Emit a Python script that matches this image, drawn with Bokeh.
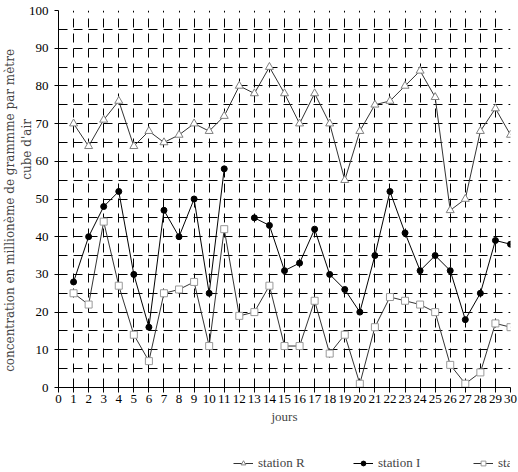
import numpy as np
from bokeh.plotting import figure
from bokeh.layouts import column
from bokeh.models import FixedTicker, Range1d, Legend, LegendItem
from bokeh.embed import file_html
from bokeh.resources import INLINE

nan = float("nan")

days = list(range(1, 31))
station_R = [70, 64, 71, 76, 64, 68, 65, 67, 70, 68, 72, 80, 78, 85, 78,
             70, 78, 70, 55, 68, 75, 76, 80, 84, 77, 47, 50, 68, 74, 67]
station_I = [28, 40, 48, 52, 30, 16, 47, 40, 50, 25, 58, nan, 45, 43, 31,
             33, 42, 30, 26, 20, 35, 52, 41, 31, 35, 31, 18, 25, 39, 38]
station_U = [25, 22, 44, 27, 14, 7, 25, 26, 28, 11, 42, 19, 20, 27, 11,
             11, 23, 9, 14, 1, 16, 24, 23, 22, 20, 6, 1, 4, 17, 16]
x_ticks = list(range(0, 31))
y_ticks = list(range(0, 101, 10))
y_grid = list(range(5, 101, 5))
series_labels = ["station R", "station I", "station U"]
y_label_1 = "concentration en millionème de grammme par mètre"
y_label_2 = "cube d'air"
x_label = "jours"

FONT = "Liberation Serif"
NB = "\u00a0"

R_STYLE = dict(marker="triangle", size=8, line_color="#808080", fill_color="white")
I_STYLE = dict(marker="circle", size=6, line_color="black", fill_color="black")
U_STYLE = dict(marker="square", size=7, line_color="#999999", fill_color="white")

p = figure(width=518, height=442, x_range=Range1d(0, 30), y_range=Range1d(0, 100),
           output_backend="svg", toolbar_location=None)
p.min_border_left = 20
p.min_border_right = 8
p.min_border_top = 10
p.min_border_bottom = 55
p.outline_line_color = None
p.background_fill_color = "white"

# grids
p.xgrid.ticker = FixedTicker(ticks=days)
p.ygrid.ticker = FixedTicker(ticks=y_grid)
for g in (p.xgrid, p.ygrid):
    g.grid_line_color = "black"
    g.grid_line_dash = "9 6"
    g.grid_line_width = 1
    g.grid_line_alpha = 1.0

# axes
p.xaxis.ticker = FixedTicker(ticks=x_ticks)
p.yaxis.ticker = FixedTicker(ticks=y_ticks)
for ax in (p.xaxis, p.yaxis):
    ax.axis_line_color = "black"
    ax.major_tick_line_color = "black"
    ax.minor_tick_line_color = None
    ax.major_tick_in = 0
    ax.major_label_text_font = FONT
    ax.major_label_text_font_size = "13px"
    ax.major_label_text_color = "black"
p.xaxis.major_tick_out = 5
p.yaxis.major_tick_out = 4
p.xaxis.major_label_standoff = 2
p.yaxis.major_label_standoff = 6
p.xaxis.axis_label = x_label
p.xaxis.axis_label_text_font = FONT
p.xaxis.axis_label_text_font_style = "normal"
p.xaxis.axis_label_text_font_size = "13px"
p.xaxis.axis_label_standoff = 3

p.yaxis.axis_label = y_label_1 + NB * 6 + "\n" + NB * 26 + y_label_2
p.yaxis.axis_label_text_font = "DejaVu Serif"
p.yaxis.axis_label_text_font_style = "normal"
p.yaxis.axis_label_text_font_size = "12px"
p.yaxis.axis_label_standoff = -8

# series
p.line(days, station_R, line_color="#333333", line_width=1)
p.scatter(days, station_R, line_width=1, **R_STYLE)
p.line(days, station_I, line_color="black", line_width=1)
p.scatter(days, station_I, **I_STYLE)
p.line(days, station_U, line_color="#333333", line_width=1)
p.scatter(days, station_U, line_width=1, **U_STYLE)

# legend strip underneath: a small figure without axes whose ranges lie
# outside the data, so only the legend is visible
lg = figure(width=518, height=30, x_range=Range1d(-20, -19), y_range=Range1d(-20, -19),
            x_axis_type=None, y_axis_type=None,
            output_backend="svg", toolbar_location=None)
lg.min_border_left = 0
lg.min_border_right = 0
lg.min_border_top = 0
lg.min_border_bottom = 0
lg.outline_line_color = None
lr_line = lg.line(days, station_R, line_color="#333333", line_width=1)
lr_pts = lg.scatter(days, station_R, line_width=1, **R_STYLE)
li_line = lg.line(days, station_I, line_color="black", line_width=1)
li_pts = lg.scatter(days, station_I, **I_STYLE)
lu_line = lg.line(days, station_U, line_color="#333333", line_width=1)
lu_pts = lg.scatter(days, station_U, line_width=1, **U_STYLE)

legend = Legend(items=[
    LegendItem(label=series_labels[0], renderers=[lr_line, lr_pts]),
    LegendItem(label=series_labels[1], renderers=[li_line, li_pts]),
    LegendItem(label=series_labels[2], renderers=[lu_line, lu_pts]),
], orientation="horizontal", location=(175, 1))
legend.label_text_font = FONT
legend.label_text_font_size = "13px"
legend.glyph_width = 20
legend.glyph_height = 12
legend.label_height = 16
legend.label_standoff = 5
legend.label_width = 95
legend.spacing = 0
legend.padding = 0
legend.margin = 0
legend.border_line_color = None
legend.background_fill_alpha = 0
lg.add_layout(legend)

layout = column(p, lg, spacing=0)
open("out.html", "w").write(file_html(layout, INLINE))
